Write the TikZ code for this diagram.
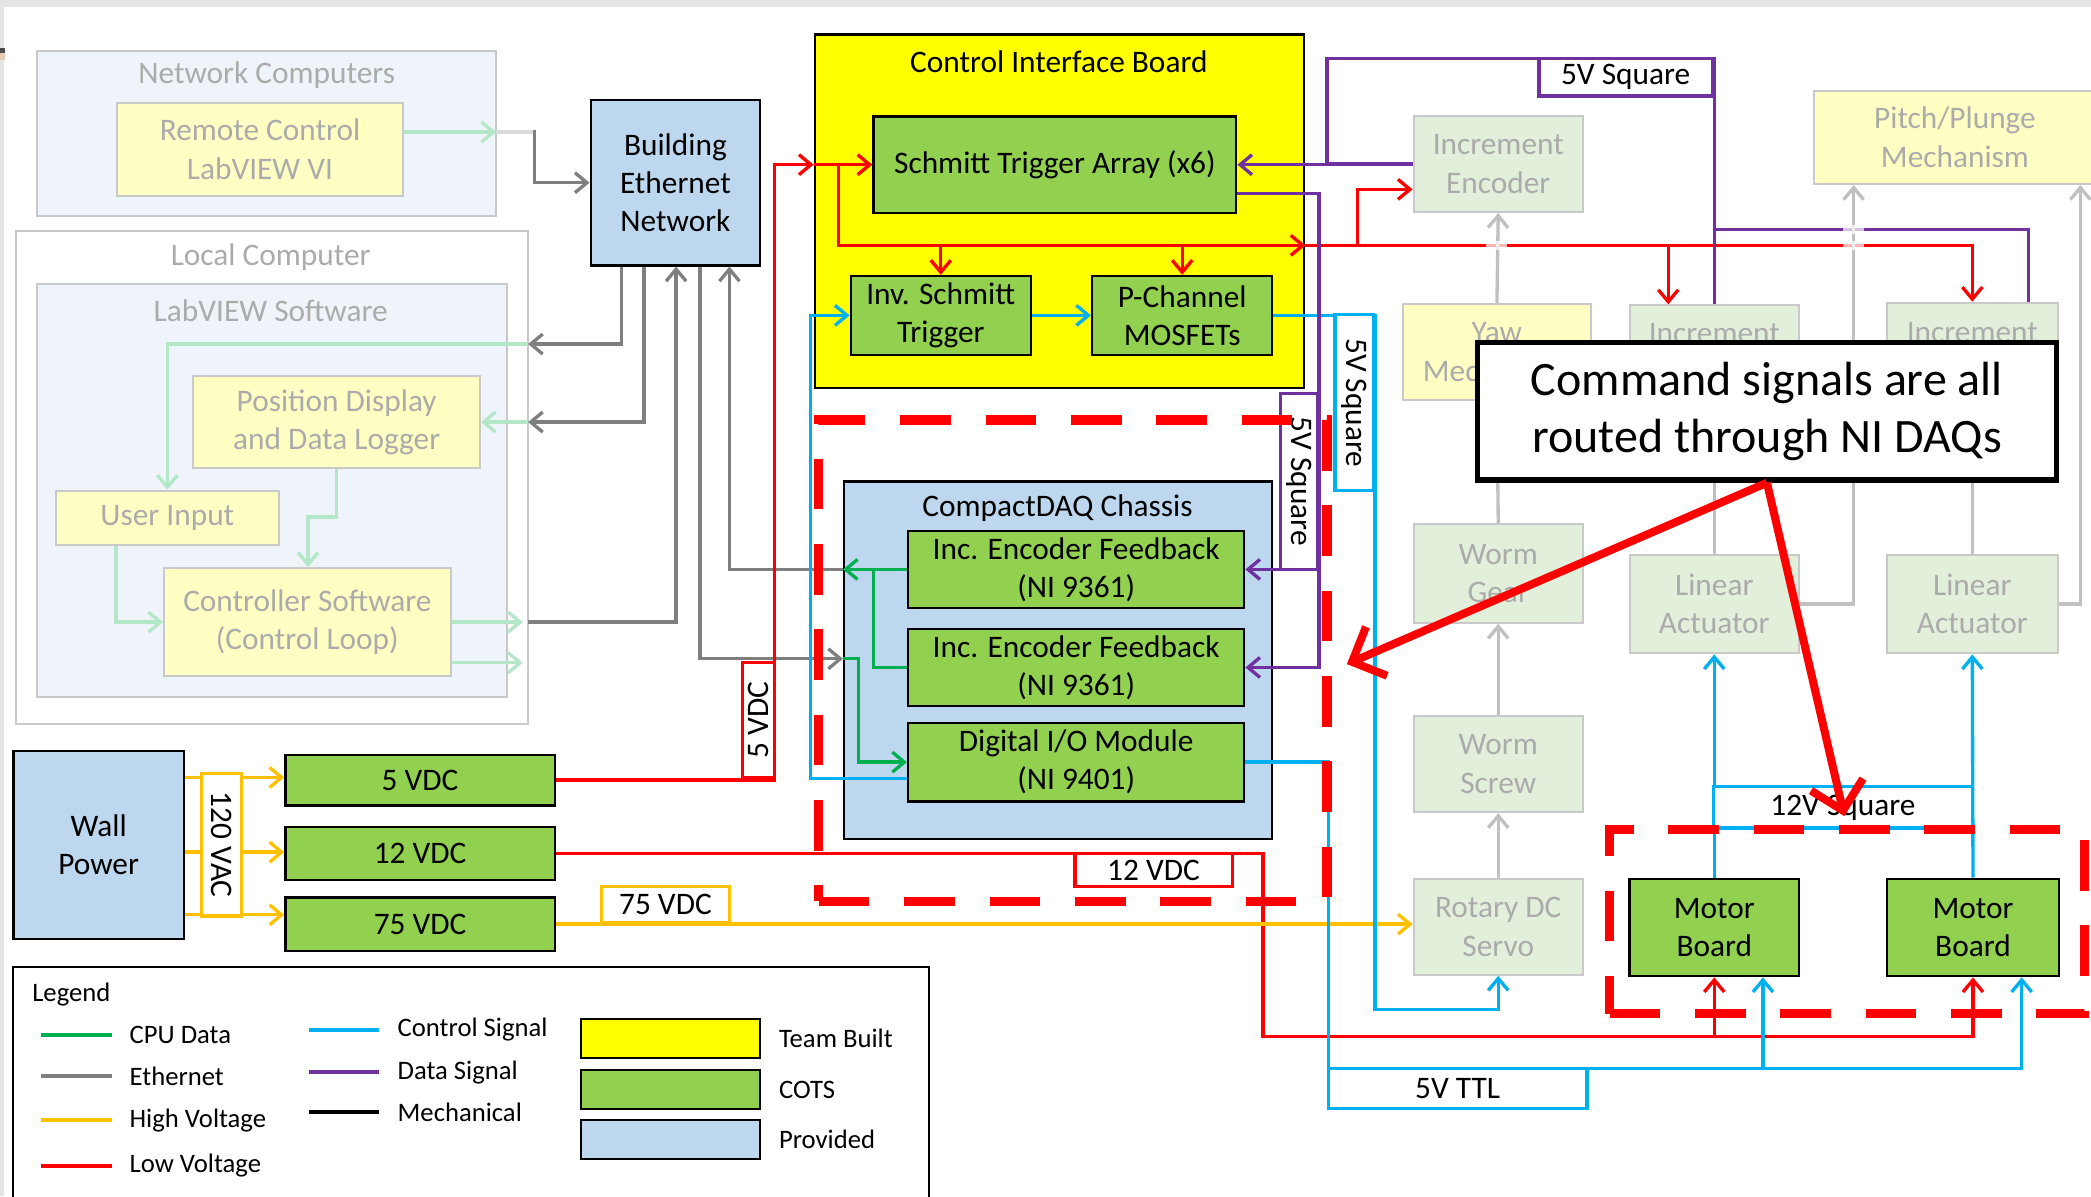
\documentclass[tikz,border=0pt]{standalone}
\usepackage{fontspec}
\setmainfont{Carlito}
\usetikzlibrary{arrows.meta}

\definecolor{cotsgreen}{HTML}{92D050}
\definecolor{provblue}{HTML}{BDD7EE}
\definecolor{teamyellow}{HTML}{FFFF00}
\definecolor{lowred}{HTML}{FF0000}
\definecolor{highorange}{HTML}{FFC000}
\definecolor{ctrlblue}{HTML}{00B0F0}
\definecolor{datapurple}{HTML}{7030A0}
\definecolor{cpugreen}{HTML}{00B050}
\definecolor{ethgray}{HTML}{7F7F7F}
\definecolor{fadeline}{HTML}{C9C9C9}
\definecolor{fadetext}{HTML}{ABABAB}
\definecolor{fadeyellow}{HTML}{FFFFC4}
\definecolor{fadegreen}{HTML}{E2EFDA}
\definecolor{fadeblue}{HTML}{EEF4FA}
\definecolor{fadecpu}{HTML}{B4E6C8}
\definecolor{fademech}{HTML}{C0C0C0}
\definecolor{fadeeth}{HTML}{DADADA}

\tikzset{
  txt/.style={font=\fontsize{23.5}{28.7}\selectfont},
  legtxt/.style={font=\fontsize{20}{24}\selectfont, anchor=west, inner sep=0},
  title/.style={txt, inner sep=0},
  blk/.style={txt, draw=black, line width=1.8pt, align=center, inner sep=0},
  cots/.style={blk, fill=cotsgreen},
  prov/.style={blk, fill=provblue},
  faded/.style={txt, draw=fadeline, line width=1.5pt, text=fadetext, align=center, inner sep=0},
  fadeg/.style={faded, fill=fadegreen},
  fadey/.style={faded, fill=fadeyellow},
  fadec/.style={faded, fill=fadeblue},
  tag/.style={txt, fill=white, line width=2.5pt, inner sep=0},
  wire/.style={line width=2.5pt},
  lowv/.style={wire, draw=lowred},
  highv/.style={wire, draw=highorange},
  ctrl/.style={wire, draw=ctrlblue},
  data/.style={wire, draw=datapurple},
  cpu/.style={wire, draw=cpugreen},
  eth/.style={wire, draw=ethgray},
  fcpu/.style={wire, draw=fadecpu},
  feth/.style={wire, draw=fadeeth},
  mech/.style={wire, draw=fademech},
  grp/.style={draw=lowred, line width=7pt, dash pattern=on 38pt off 26pt, inner sep=0},
  callarrow/.style={draw=lowred, line width=6pt, -{Straight Barb[length=20pt,width=40pt]}}
}

\begin{document}
\begin{tikzpicture}[x=1pt, y=-1pt, >={Straight Barb[length=9pt,width=15pt]}]
\useasboundingbox (0,0) rectangle (1568,897);
\clip (0,0) rectangle (1568,897);

% Frame
\fill[black!10] (0,0) rectangle (1568,5);
\fill[black!10] (0,0) rectangle (3,897);
\fill[black!70] (0,36) rectangle (4,40);
\fill[brown!40] (0,40) rectangle (4,45);

% Computers
\node[fadec, minimum width=344, minimum height=124] (netc) at (200,100) {};
\node[title, text=fadetext] (netct) at (200,56) {Network Computers};
\node[fadey, minimum width=214, minimum height=70] (rc) at (195,112) {Remote Control\\LabVIEW VI};
\node[faded, fill=white, minimum width=384, minimum height=370] (locc) at (204,358) {};
\node[title, text=fadetext] (locct) at (203,193) {Local Computer};
\node[fadec, minimum width=352, minimum height=310] (lvs) at (204,368) {};
\node[title, text=fadetext] (lvst) at (203,233) {LabVIEW Software};
\node[fadey, minimum width=215, minimum height=69] (pdl) at (252.5,316.5) {Position Display\\and Data Logger};
\node[fadey, minimum width=167, minimum height=41] (ui) at (125.5,388.5) {User Input};
\node[fadey, minimum width=215, minimum height=81] (csw) at (230.5,466.5) {Controller Software\\(Control Loop)};
\node[prov, minimum width=127, minimum height=124] (ben) at (506.5,137) {Building\\Ethernet\\Network};

% Control interface board
\node[blk, fill=teamyellow, minimum width=367, minimum height=265] (cib) at (794.5,158.5) {};
\node[title] (cibt) at (794,46) {Control Interface Board};
\node[cots, minimum width=272, minimum height=72] (sta) at (791,123.5) {Schmitt Trigger Array (x6)};
\node[cots, minimum width=135, minimum height=59] (ist) at (705.5,236.5) {Inv. Schmitt\\Trigger};
\node[cots, minimum width=135, minimum height=59] (pch) at (886.5,236.5) {P-Channel\\MOSFETs};

% CompactDAQ
\node[prov, minimum width=321, minimum height=268] (cdaq) at (793.5,495) {};
\node[title] (cdaqt) at (793,381) {CompactDAQ Chassis};
\foreach \n/\y in {enc1/427, enc2/500.5}
  \node[cots, minimum width=252, minimum height=58] (\n) at (807,\y) {Inc. Encoder Feedback\\(NI 9361)};
\node[cots, minimum width=252, minimum height=59] (dio) at (807,571.5) {Digital I/O Module\\(NI 9401)};

% Power supplies
\node[prov, minimum width=128, minimum height=141] (wall) at (74,633.5) {Wall\\Power};
\foreach \n/\y/\h/\t in {v5/585/38/5 VDC, v12/640/40/12 VDC, v75/693/40/75 VDC}
  \node[cots, minimum width=202, minimum height=\h] (\n) at (315,\y) {\t};

% Mechanism
\node[fadeg, minimum width=127, minimum height=72] (ie) at (1123.5,123) {Increment\\Encoder};
\node[fadey, minimum width=212, minimum height=70] (ppm) at (1466,103) {Pitch/Plunge\\Mechanism};
\node[fadey, minimum width=141, minimum height=72] (yaw) at (1122.5,264) {Yaw\\Mechanism};
\node[fadeg, minimum width=127, minimum height=71] (iem) at (1285.5,264.5) {Increment\\Encoder};
\node[fadeg, minimum width=128, minimum height=73] (ier) at (1479,263.5) {Increment\\Encoder};
\node[fadeg, minimum width=127, minimum height=74] (wg) at (1123.5,430) {Worm\\Gear};
\node[fadeg, minimum width=127, minimum height=72] (ws) at (1123.5,573) {Worm\\Screw};
\node[fadeg, minimum width=127, minimum height=72] (rds) at (1123.5,695) {Rotary DC\\Servo};
\node[fadeg, minimum width=127, minimum height=74] (la1) at (1285.5,453) {Linear\\Actuator};
\node[fadeg, minimum width=128, minimum height=74] (la2) at (1479,453) {Linear\\Actuator};
\node[cots, minimum width=127, minimum height=73] (mb1) at (1285.5,695.5) {Motor\\Board};
\node[cots, minimum width=129, minimum height=73] (mb2) at (1479.5,695.5) {Motor\\Board};

% Faded software links
\draw[fcpu,->] (rc.east |- 0,99) -- (372,99);
\draw[feth] (372,99) -- (400,99);
\draw[fcpu,->] (396,258) -| (ui.north);
\draw[fcpu,->] (396,316.5) -- (pdl.east);
\draw[fcpu,->] (pdl.south) -- ++(0,36) -| (csw.north -| 231,0);
\draw[fcpu,->] (ui.south -| 87,0) |- (csw.west);
\draw[fcpu,->] (csw.east) -- (392,466.5);
\draw[fcpu,->] (csw.east |- 0,497) -- (392,497);

% Ethernet
\draw[eth,->] (400,99) -- (401,99) |- (ben.west);
\draw[eth,->] (ben.south -| 466,0) |- (396,258);
\draw[eth,->] (ben.south -| 483,0) |- (396,316.5);
\draw[eth,->] (396,466.5) -| (ben.south -| 507,0);
\draw[eth,->] (ben.south -| 525,0) |- (cdaq.west |- 0,494);
\draw[eth,->] (cdaq.west |- enc1.west) -| (ben.south -| 547,0);

% CPU data in the chassis
\draw[cpu,->] (enc1.west) -- (cdaq.west |- enc1.west);
\draw[cpu] (enc2.west) -| (655,427);
\draw[cpu,->] (cdaq.west |- 0,494) -- (644,494) |- (dio.west);

% Low voltage
\draw[lowv,->] (v5.east) -| (581,123.5) -- (cib.west |- sta.west);
\draw[lowv,->] (cib.west |- sta.west) -- (sta.west);
\draw[lowv,->] (629,123.5) |- (cib.east |- 0,184);
\draw[lowv,->] (ist.north |- 0,184) -- (ist.north);
\draw[lowv,->] (pch.north |- 0,184) -- (pch.north);
\draw[lowv,->] (cib.east |- 0,184) -- (1018,184) |- (ie.west |- 0,142);
\draw[lowv,->] (1018,184) -| (ier.north);
\draw[lowv,->] (1251,184) -- (iem.north -| 1251,0);
\draw[lowv,->] (v12.east) -| (947,777) -| (mb2.south);
\draw[lowv,->] (mb1.south |- 0,777) -- (mb1.south);

% High voltage
\foreach \n/\y in {v5/583, v12/639, v75/686}
  \draw[highv,->] (wall.east |- 0,\y) -- (\n.west |- 0,\y);
\draw[highv,->] (v75.east) -- (v75.east -| rds.west);

% Control signals
\draw[ctrl,->] (dio.west |- 0,584) -- (608,584) |- (ist.west);
\draw[ctrl,->] (ist.east) -- (pch.west);
\draw[ctrl,->] (pch.east) -| (1031,757) -| (rds.south);
\draw[ctrl,->] (dio.east) -| (996,801) -| (mb2.south -| 1516,0);
\draw[ctrl,->] (1322,801) -- (mb1.south -| 1322,0);
\draw[ctrl,->] (mb1.north) -- (la1.south);
\draw[ctrl,->] (mb2.north) -- (la2.south);

% Data signals
\draw[data,->] (iem.north) |- (995,44) |- (sta.east);
\draw[data] (ie.west) -- (ie.west -| 995,0);
\draw[data] (ier.north -| 1521,0) |- (iem.north |- 0,172);
\draw[data,->] (sta.east |- 0,145) -| (enc2.east -| 989,0) -- (enc2.east);
\draw[data,->] (enc1.east -| 989,0) -- (enc1.east);

% Mechanical links
\draw[mech,->] (rds.north) -- (ws.south);
\draw[mech,->] (ws.north) -- (wg.south);
\draw[mech] (wg.north) -- (yaw.south);
\draw[mech,->] (yaw.north) -- (ie.south);
\draw[mech] (la1.north) -- (iem.south);
\draw[mech] (la2.north) -- (ier.south);
\draw[mech,->] (la1.east) -| (ppm.south -| 1390,0);
\draw[mech,->] (la2.east) -| (ppm.south -| 1560,0);
\foreach \x/\y in {1122/184, 1390/184, 1390/172}
  \fill[white, opacity=0.7] (\x-8,\y-3.5) rectangle (\x+8,\y+3.5);

% Line tags
\node[tag, draw=datapurple, minimum width=130, minimum height=28] (tagsqa) at (1219,58) {5V Square};
\node[tag, draw=datapurple, rotate=-90, minimum width=132, minimum height=28] (tagsqb) at (974,361) {5V Square};
\node[tag, draw=ctrlblue, rotate=-90, minimum width=132, minimum height=29] (tagsqc) at (1015.5,302) {5V Square};
\node[tag, draw=lowred, rotate=90, minimum width=86, minimum height=24] (tagva) at (569,540) {5 VDC};
\node[tag, draw=highorange, rotate=-90, minimum width=107, minimum height=30] (tagvac) at (166,633.5) {120 VAC};
\node[tag, draw=highorange, minimum width=96, minimum height=27] (tagvc) at (499,678.5) {75 VDC};
\node[tag, draw=lowred, minimum width=118, minimum height=25] (tagvb) at (865,652.5) {12 VDC};
\node[tag, draw=ctrlblue, minimum width=194, minimum height=30] (tagttl) at (1093,816) {5V TTL};
\node[tag, draw=ctrlblue, minimum width=194, minimum height=31] (tagsqd) at (1382,605.5) {12V Square};

% Note
\node[draw=black, line width=4pt, fill=white, minimum width=434, minimum height=103,
  align=center, inner sep=0, font=\fontsize{36}{43}\selectfont] (callout) at (1325,308.5)
  {Command signals are all\\routed through NI DAQs};
\node[grp, minimum width=381, minimum height=361] (daqgrp) at (804.5,495.5) {};
\node[grp, minimum width=356, minimum height=138] (mbgrp) at (1385,691) {};
\coordinate (tipdaq) at (1010,498);
\coordinate (tipmb) at (1383,612);
\draw[callarrow] (callout.south) -- (tipdaq);
\draw[callarrow] (callout.south) -- (tipmb);

% Legend
\node[draw=black, line width=1.5pt, fill=white, minimum width=687, minimum height=190, inner sep=0] (legend) at (353.5,820) {};
\node[legtxt] (legt) at (24,746) {Legend};
\foreach \s/\t/\y in {cpu/CPU Data/776, eth/Ethernet/807, highv/High Voltage/840, lowv/Low Voltage/874} {
  \draw[\s, line width=3pt] (31,\y) -- (84,\y);
  \node[legtxt] (lga\y) at (97,\y) {\t};
}
\foreach \s/\t/\y in {ctrl/Control Signal/772, data/Data Signal/804, wire/Mechanical/834} {
  \draw[\s, line width=3pt] (232,\y) -- (284,\y);
  \node[legtxt] (lgb\y) at (298,\y) {\t};
}
\foreach \f/\t/\y in {teamyellow/Team Built/778.5, cotsgreen/COTS/817, provblue/Provided/854.5} {
  \node[draw=black, line width=1.5pt, fill=\f, minimum width=134, minimum height=29, inner sep=0] (sw\y) at (503,\y) {};
  \node[legtxt] (lgc\y) at (584,\y) {\t};
}
\end{tikzpicture}
\end{document}
